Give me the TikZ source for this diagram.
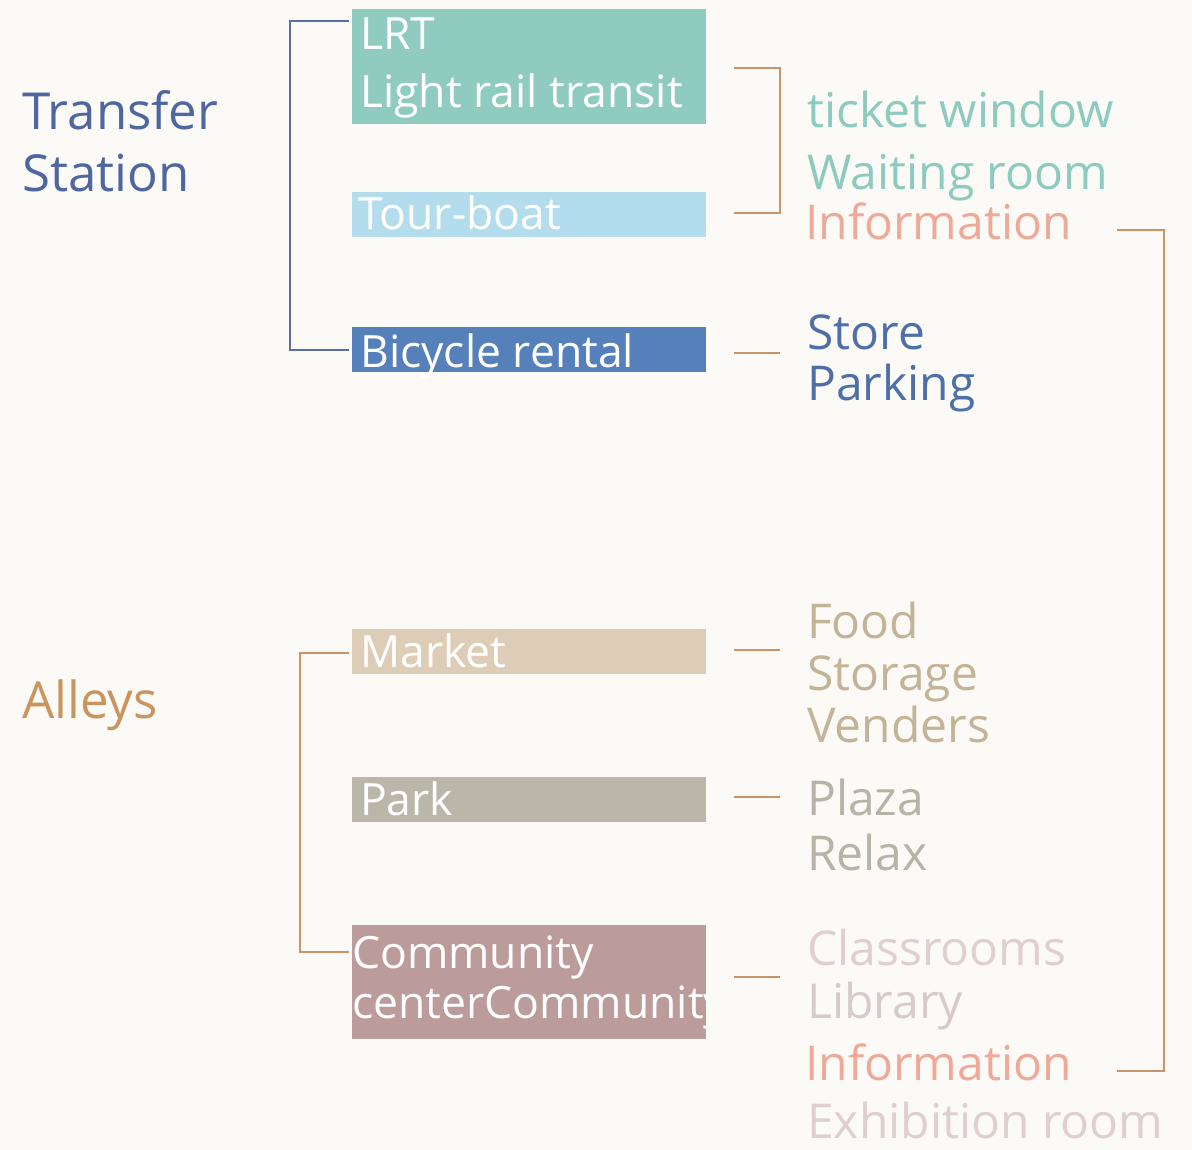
\documentclass[tikz,border=0pt]{standalone}
\usepackage{fontspec}
\setmainfont{Open Sans}
\definecolor{bg}{HTML}{FCFAF6}
\definecolor{lrtc}{HTML}{8FCBBE}
\definecolor{tourc}{HTML}{B3DCEC}
\definecolor{bikec}{HTML}{5680BA}
\definecolor{marketc}{HTML}{DDCDB7}
\definecolor{parkc}{HTML}{BAB6AA}
\definecolor{commc}{HTML}{BB9C9B}
\definecolor{blueline}{HTML}{5B6EA8}
\definecolor{orangeline}{HTML}{C99468}
\definecolor{transc}{HTML}{4F67A0}
\definecolor{alleyc}{HTML}{C8955F}
\definecolor{tealt}{HTML}{8DCBBE}
\definecolor{infoc}{HTML}{EFA998}
\definecolor{storec}{HTML}{4E6FA8}
\definecolor{foodc}{HTML}{C4B497}
\definecolor{plazac}{HTML}{B7B3A8}
\definecolor{classc}{HTML}{DFCFCE}
\definecolor{libc}{HTML}{D6CBCA}
\begin{document}
\begin{tikzpicture}[x=1pt,y=-1pt,
  box/.style={draw=none,fill=#1,anchor=north west,inner sep=0pt,minimum width=354pt},
  boxtext/.style={anchor=base west,inner sep=0pt,text=white,font=\fontsize{44.5}{44.5}\selectfont},
  title/.style={anchor=base west,inner sep=0pt,text=#1,font=\fontsize{51}{51}\selectfont},
  item/.style={anchor=base west,inner sep=0pt,text=#1,font=\fontsize{48}{48}\selectfont},
  bline/.style={draw=blueline,line width=2.2pt},
  oline/.style={draw=orangeline,line width=2pt}]
\fill[bg] (0,0) rectangle (1192,1150);
\useasboundingbox (0,0) rectangle (1192,1150);
% titles
\node[title=transc] (t1) at (22,130) {Transfer};
\node[title=transc] (t2) at (22,192) {Station};
\node[title=alleyc] (t3) at (22,718) {Alleys};
% boxes
\node[box=lrtc,minimum height=115pt] (lrt) at (352,9) {};
\node[box=tourc,minimum height=45pt] (tour) at (352,192) {};
\node[box=bikec,minimum height=45pt] (bike) at (352,327) {};
\node[box=marketc,minimum height=45pt] (market) at (352,629) {};
\node[box=parkc,minimum height=45pt] (park) at (352,777) {};
\node[box=commc,minimum height=114pt] (comm) at (352,925) {};
% box texts
\node[boxtext] (lrt1) at (360,50) {LRT};
\node[boxtext] (lrt2) at (360,108) {Light rail transit};
\node[boxtext] (tourt) at (358,230) {Tour-boat};
\node[boxtext] (biket) at (360,367) {Bicycle rental};
\node[boxtext] (markett) at (360,667) {Market};
\node[boxtext] (parkt) at (360,815) {Park};
\begin{scope}
\clip (comm.north west) rectangle (comm.south east);
\node[boxtext] (comm1) at (352,968) {Community};
\node[boxtext] (comm2) at (352,1018) {centerCommunity};
\end{scope}
% right items
\node[item=tealt] (r1) at (807,128) {ticket window};
\node[item=tealt] (r2) at (807,190) {Waiting room};
\node[item=infoc] (r3) at (805,240) {Information};
\node[item=storec] (r4) at (807,350) {Store};
\node[item=storec] (r5) at (807,400) {Parking};
\node[item=foodc] (r6) at (807,638) {Food};
\node[item=foodc] (r7) at (807,690) {Storage};
\node[item=foodc] (r8) at (807,742) {Venders};
\node[item=plazac] (r9) at (807,815) {Plaza};
\node[item=plazac] (r10) at (807,870) {Relax};
\node[item=classc] (r11) at (807,965) {Classrooms};
\node[item=libc] (r12) at (807,1018) {Library};
\node[item=infoc] (r13) at (805,1080) {Information};
\node[item=classc] (r14) at (807,1138) {Exhibition room};
% connectors
\coordinate (b1) at (349,21);
\coordinate (b2) at (349,350);
\draw[bline] (b1) -- (290,21) -- (290,350) -- (b2);
\coordinate (a1) at (349,653);
\coordinate (a2) at (349,952);
\draw[oline] (a1) -- (300,653) -- (300,952) -- (a2);
\coordinate (c1) at (734,68);
\coordinate (c2) at (734,213);
\draw[oline] (c1) -- (780,68) -- (780,213) -- (c2);
\coordinate (i1) at (1117,230);
\coordinate (i2) at (1117,1071);
\draw[oline] (i1) -- (1164,230) -- (1164,1071) -- (i2);
\draw[oline] (734,353) -- (780,353);
\draw[oline] (734,650) -- (780,650);
\draw[oline] (734,797) -- (780,797);
\draw[oline] (734,977) -- (780,977);
\end{tikzpicture}
\end{document}
